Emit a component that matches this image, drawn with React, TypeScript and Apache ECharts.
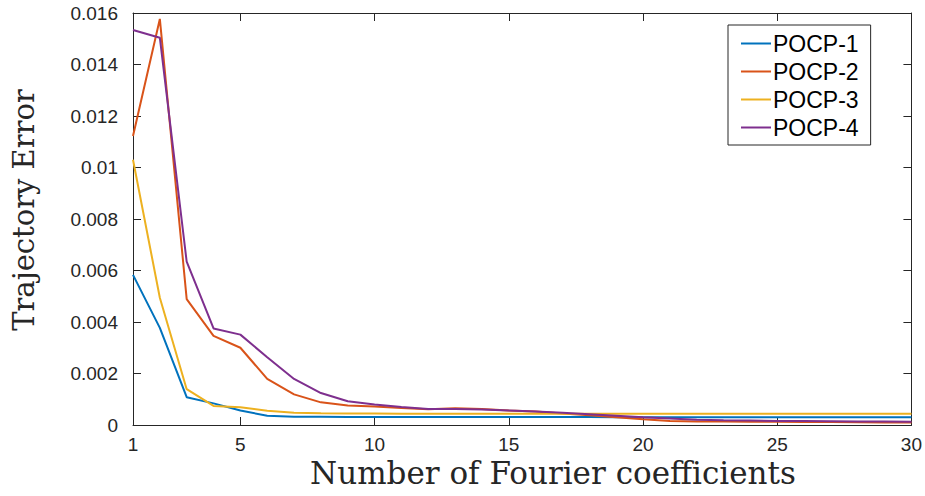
import React, { useEffect, useRef } from "react";
import * as echarts from "echarts";

const xValues = Array.from({ length: 30 }, (_, i) => i + 1);
const seriesNames = ["POCP-1", "POCP-2", "POCP-3", "POCP-4"];
const pocp1 = [0.00583, 0.00377, 0.00108, 0.00084, 0.00056, 0.00036, 0.00032, 0.00032, 0.00031, 0.00031, 0.00031, 0.00031, 0.00031, 0.00031, 0.00031, 0.00031, 0.00031, 0.00031, 0.0003, 0.0003, 0.0003, 0.0003, 0.0003, 0.0003, 0.0003, 0.0003, 0.0003, 0.0003, 0.0003, 0.0003];
const pocp2 = [0.01122, 0.01577, 0.00489, 0.00346, 0.003, 0.00179, 0.00119, 0.00088, 0.00076, 0.00072, 0.00066, 0.00061, 0.00065, 0.00062, 0.00056, 0.00052, 0.00045, 0.00038, 0.0003, 0.00022, 0.00016, 0.00014, 0.00014, 0.00013, 0.00013, 0.00012, 0.00012, 0.00011, 0.0001, 0.0001];
const pocp3 = [0.0103, 0.00494, 0.00139, 0.00074, 0.00069, 0.00055, 0.00048, 0.00046, 0.00045, 0.00045, 0.00044, 0.00044, 0.00044, 0.00044, 0.00044, 0.00044, 0.00044, 0.00044, 0.00044, 0.00044, 0.00044, 0.00044, 0.00044, 0.00044, 0.00044, 0.00044, 0.00044, 0.00044, 0.00044, 0.00044];
const pocp4 = [0.01534, 0.01504, 0.00634, 0.00375, 0.00351, 0.00263, 0.00179, 0.00124, 0.00092, 0.0008, 0.0007, 0.00062, 0.00062, 0.0006, 0.00056, 0.00052, 0.00048, 0.00042, 0.00036, 0.0003, 0.00025, 0.0002, 0.00018, 0.00017, 0.00016, 0.00016, 0.00015, 0.00014, 0.00014, 0.00013];
const xTicks = [1, 5, 10, 15, 20, 25, 30];
const colors = ["#0072BD", "#D95319", "#EDB120", "#7E2F8E"];
const xTitle = "Number of Fourier coefficients";
const yTitle = "Trajectory Error";

export default function App() {
  const ref = useRef<HTMLDivElement>(null);
  useEffect(() => {
    if (!ref.current) return;
    const chart = echarts.init(ref.current, null, { renderer: "svg" });
    const all = [pocp1, pocp2, pocp3, pocp4];
    const axisColor = "#262626";
    const gridLeft = 133, gridTop = 13, gridRight = 12, gridBottom = 71;
    chart.setOption({
      animation: false,
      color: colors,
      grid: { left: gridLeft, top: gridTop, right: gridRight, bottom: gridBottom, containLabel: false },
      legend: {
        left: 728,
        top: 25,
        orient: "vertical",
        padding: [7, 12, 6, 13],
        itemGap: 5,
        itemWidth: 30,
        itemHeight: 2,
        icon: "rect",
        borderColor: "#262626",
        borderWidth: 1,
        backgroundColor: "#ffffff",
        textStyle: { fontFamily: "Liberation Sans, Arial, sans-serif", fontSize: 23, color: "#000", lineHeight: 23, padding: [0, 0, 0, -3] },
        data: seriesNames,
      },
      xAxis: [
        {
          type: "value",
          min: 1,
          max: 30,
          axisLine: { show: true, onZero: false, lineStyle: { color: axisColor, width: 1 } },
          axisTick: { show: true, inside: true, length: 8, customValues: xTicks, lineStyle: { color: axisColor } },
          axisLabel: { customValues: xTicks, margin: 10, fontSize: 19, lineHeight: 19, color: "#262626", fontFamily: "Liberation Sans, Arial, sans-serif" },
          splitLine: { show: false },
        },
        {
          type: "value",
          position: "top",
          min: 1,
          max: 30,
          axisLine: { show: true, onZero: false, lineStyle: { color: axisColor, width: 1 } },
          axisTick: { show: true, inside: true, length: 8, customValues: xTicks, lineStyle: { color: axisColor } },
          axisLabel: { show: false },
          splitLine: { show: false },
        },
      ],
      yAxis: [
        {
          type: "value",
          min: 0,
          max: 0.016,
          interval: 0.002,
          axisLine: { show: true, onZero: false, lineStyle: { color: axisColor, width: 1 } },
          axisTick: { show: true, inside: true, length: 8, lineStyle: { color: axisColor } },
          axisLabel: {
            margin: 15,
            fontSize: 19,
            color: "#262626",
            fontFamily: "Liberation Sans, Arial, sans-serif",
            formatter: (v: number) => String(parseFloat(v.toFixed(4))),
          },
          splitLine: { show: false },
        },
        {
          type: "value",
          position: "right",
          min: 0,
          max: 0.016,
          interval: 0.002,
          axisLine: { show: true, onZero: false, lineStyle: { color: axisColor, width: 1 } },
          axisTick: { show: true, inside: true, length: 8, lineStyle: { color: axisColor } },
          axisLabel: { show: false },
          splitLine: { show: false },
        },
      ],
      series: seriesNames.map((name, i) => ({
        name,
        type: "line",
        xAxisIndex: 0,
        yAxisIndex: 0,
        showSymbol: false,
        symbol: "none",
        lineStyle: { width: 2, color: colors[i] },
        data: xValues.map((x, j) => [x, all[i][j]]),
      })),
      graphic: [
        {
          type: "text",
          x: 553,
          y: 473,
          style: {
            text: xTitle,
            fontFamily: "DejaVu Serif, serif",
            fontSize: 31,
            lineHeight: 26,
            fill: "#262626",
            align: "center",
            verticalAlign: "middle",
          },
        },
        {
          type: "text",
          x: 24,
          y: 210,
          rotation: Math.PI / 2,
          style: {
            text: yTitle,
            fontFamily: "DejaVu Serif, serif",
            fontSize: 29,
            fill: "#262626",
            align: "center",
            verticalAlign: "middle",
          },
        },
      ],
    });
    return () => chart.dispose();
  }, []);
  return <div ref={ref} style={{ width: 925, height: 496, position: "absolute", left: 0, top: 0 }} />;
}
